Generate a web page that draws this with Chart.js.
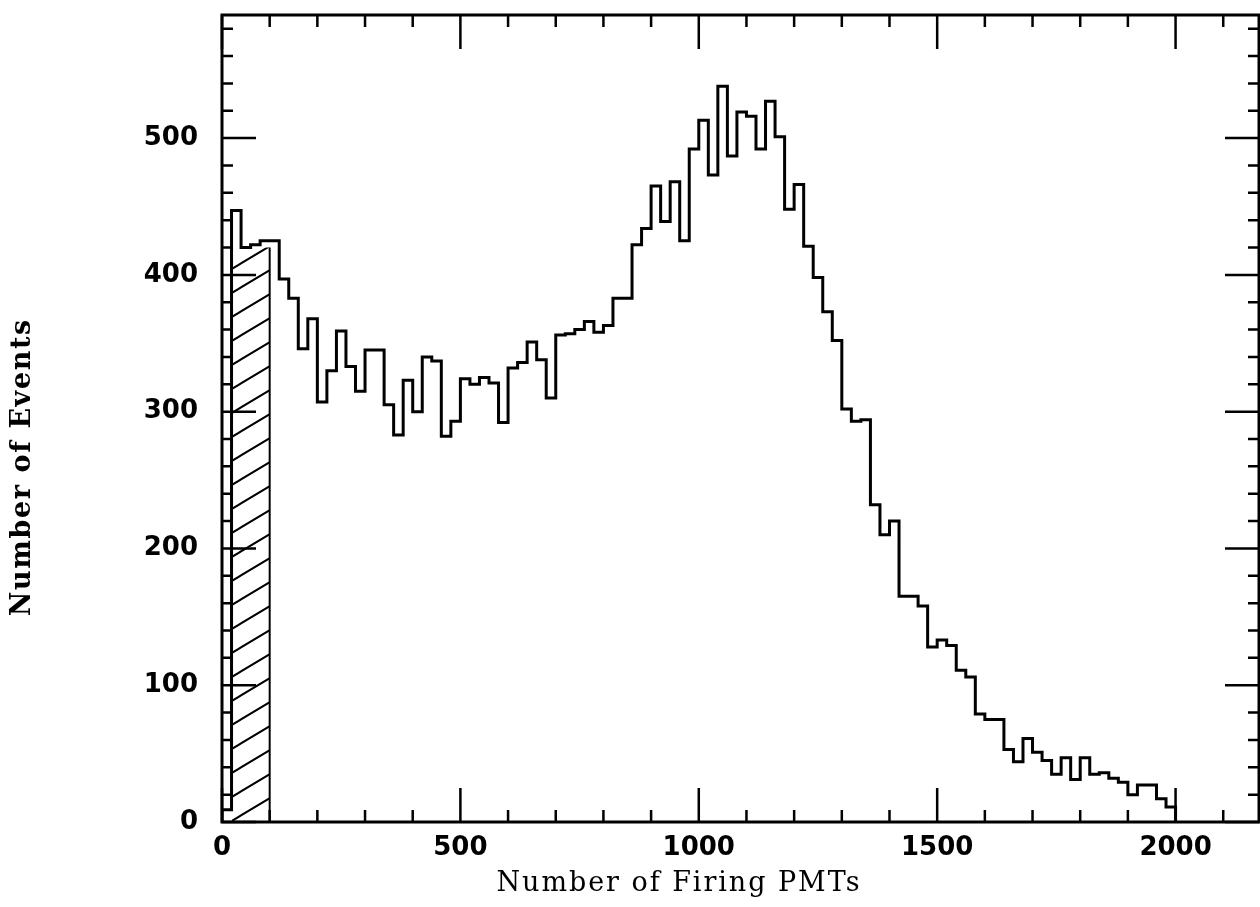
<!DOCTYPE html>
<html lang="en">
<head>
  <meta charset="UTF-8" />
  <title>Number of Firing PMTs</title>
  <script src="https://cdn.jsdelivr.net/npm/chart.js"></script>
  <style>
    body { margin: 0; background: #fff; }
    canvas { display: block; }
  </style>
</head>
<body>
  <canvas id="hist" width="1260" height="907"></canvas>

  <script>
    // histogram: 20-PMT bins from 0 to 2000
    const binWidth = 20;
    const counts = [
        9, 447, 420, 422, 425, 425, 397, 383, 346, 368,
      307, 330, 359, 333, 315, 345, 345, 305, 283, 323,
      300, 340, 337, 282, 293, 324, 320, 325, 321, 292,
      332, 336, 351, 338, 310, 356, 357, 360, 366, 358,
      363, 383, 383, 422, 434, 465, 439, 468, 425, 492,
      513, 473, 538, 487, 519, 516, 492, 527, 501, 448,
      466, 421, 398, 373, 352, 302, 293, 294, 232, 210,
      220, 165, 165, 158, 128, 133, 129, 111, 106,  79,
       75,  75,  53,  44,  61,  51,  45,  35,  47,  31,
       47,  35,  36,  32,  29,  20,  27,  27,  17,  11
    ];
    const binStarts = counts.map((_, i) => i * binWidth);
    const histEnd = binStarts[binStarts.length - 1] + binWidth;

    // hatched (cut) region
    const cutRange = [20, 100];
    const cutLevel = 420;

    // axes
    const xMax = 2175;
    const yMax = 590;
    const xTickLabels = [0, 500, 1000, 1500, 2000];
    const yTickLabels = [0, 100, 200, 300, 400, 500];
    const xMinorStep = 100;
    const yMinorStep = 20;

    const xTitle = 'Number of Firing PMTs';
    const yTitle = 'Number of Events';

    // diagonal hatch pattern
    function makeHatch() {
      const tile = document.createElement('canvas');
      tile.width = 40;
      tile.height = 24;
      const t = tile.getContext('2d');
      t.strokeStyle = '#000';
      t.lineWidth = 2;
      t.beginPath();
      for (const dy of [-24, 0, 24]) {
        t.moveTo(-40, 48 + dy);
        t.lineTo(80, -24 + dy);
      }
      t.stroke();
      return document.getElementById('hist').getContext('2d').createPattern(tile, 'repeat');
    }

    // text stretched to a given width (the original lettering is wide)
    function wideText(ctx, text, cx, cy, font, width, angle) {
      ctx.save();
      ctx.font = font;
      ctx.letterSpacing = '0px';
      const w = ctx.measureText(text).width;
      const sp = Math.max(0, (width - w) / text.length);
      ctx.letterSpacing = sp + 'px';
      ctx.translate(cx + (angle ? 0 : sp / 2), cy - (angle ? sp / 2 : 0));
      ctx.rotate(angle);
      ctx.textAlign = 'center';
      ctx.textBaseline = 'middle';
      ctx.fillStyle = '#000';
      ctx.fillText(text, 0, 0);
      ctx.restore();
    }

    // frame with inward ticks on all four sides, plus axis titles
    const framePlugin = {
      id: 'frame',
      afterDatasetsDraw(chart) {
        const { ctx, chartArea: a, scales: { x, y } } = chart;
        ctx.save();
        ctx.strokeStyle = '#000';
        ctx.lineWidth = 2.5;
        ctx.beginPath();
        for (let v = 0; v <= xMax; v += xMinorStep) {
          const px = x.getPixelForValue(v);
          const len = xTickLabels.includes(v) ? 34 : 12;
          ctx.moveTo(px, a.bottom); ctx.lineTo(px, a.bottom - len);
          ctx.moveTo(px, a.top); ctx.lineTo(px, a.top + len);
        }
        for (let v = 0; v <= yMax; v += yMinorStep) {
          const py = y.getPixelForValue(v);
          const len = yTickLabels.includes(v) ? 34 : 11;
          ctx.moveTo(a.left, py); ctx.lineTo(a.left + len, py);
          ctx.moveTo(a.right, py); ctx.lineTo(a.right - len, py);
        }
        ctx.stroke();
        ctx.lineWidth = 3;
        ctx.strokeRect(a.left, a.top, a.width, a.height);
        ctx.restore();

        wideText(ctx, xTitle, 678, 884, '27px "DejaVu Serif"', 365, 0);
        wideText(ctx, yTitle, 23, 468, 'bold 27px "DejaVu Serif"', 298, -Math.PI / 2);
      }
    };

    const tickFont = { family: '"DejaVu Sans"', size: 26, weight: 'bold' };

    // fixed axis boxes, no extra label padding
    const noPad = ax => {
      ax.paddingTop = 0;
      ax.paddingBottom = 0;
      ax.paddingLeft = 0;
      ax.paddingRight = 0;
    };

    window.addEventListener('DOMContentLoaded', () => {
      const hatch = makeHatch();

      const histData = [{ x: 0, y: 0 }]
        .concat(binStarts.map((x, i) => ({ x: x, y: counts[i] })))
        .concat([{ x: histEnd, y: 0 }]);

      new Chart(document.getElementById('hist'), {
        type: 'line',
        data: {
          datasets: [
            {
              label: 'events',
              data: histData,
              stepped: true,
              borderColor: '#000',
              borderWidth: 3,
              borderJoinStyle: 'miter',
              pointRadius: 0,
              fill: false
            },
            {
              label: 'cut edge',
              data: [{ x: cutRange[1], y: 0 }, { x: cutRange[1], y: cutLevel }],
              borderColor: '#000',
              borderWidth: 2,
              pointRadius: 0,
              fill: false
            },
            {
              label: 'cut',
              data: [{ x: cutRange[0], y: cutLevel }, { x: cutRange[1], y: cutLevel }],
              stepped: true,
              borderWidth: 0,
              borderColor: 'rgba(0,0,0,0)',
              backgroundColor: hatch,
              pointRadius: 0,
              fill: 'origin'
            }
          ]
        },
        options: {
          responsive: false,
          animation: false,
          layout: { padding: { top: 15, right: 1, left: 0, bottom: 0 } },
          plugins: {
            legend: { display: false },
            tooltip: { enabled: false }
          },
          scales: {
            x: {
              type: 'linear',
              min: 0,
              max: xMax,
              afterBuildTicks: ax => { ax.ticks = xTickLabels.map(v => ({ value: v })); },
              afterFit: ax => { ax.height = 85; noPad(ax); },
              grid: { display: false, drawTicks: false },
              border: { display: false },
              ticks: {
                padding: 11, color: '#000', font: tickFont, maxRotation: 0, autoSkip: false,
                callback: v => String(v)
              }
            },
            y: {
              min: 0,
              max: yMax,
              afterBuildTicks: ax => { ax.ticks = yTickLabels.map(v => ({ value: v })); },
              afterFit: ax => { ax.width = 222; noPad(ax); },
              grid: { display: false, drawTicks: false },
              border: { display: false },
              ticks: { padding: 24, color: '#000', font: tickFont, callback: v => String(v) }
            }
          }
        },
        plugins: [framePlugin]
      });
    });
  </script>
</body>
</html>
